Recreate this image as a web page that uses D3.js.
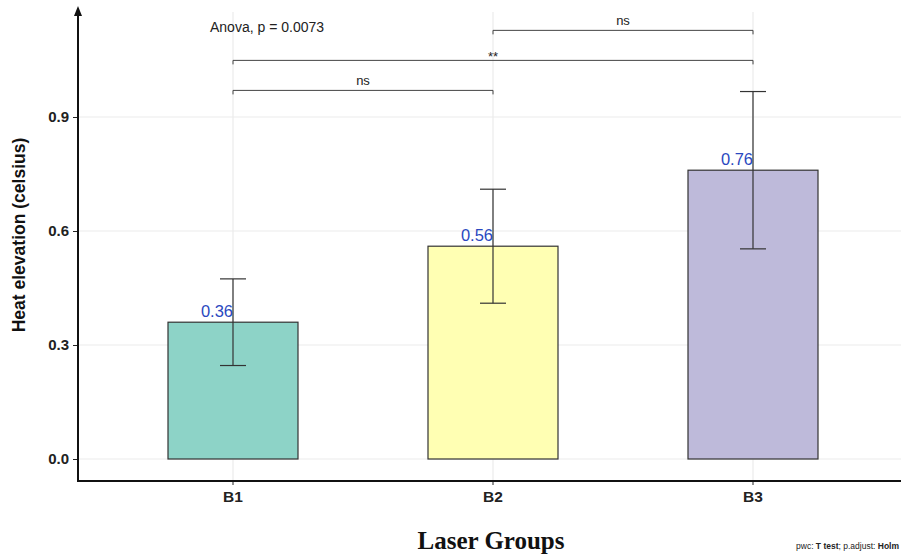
<!DOCTYPE html>
<html><head><meta charset="utf-8">
<script src="https://cdn.jsdelivr.net/npm/d3@7"></script>
<style>body{margin:0;background:#fff}svg{display:block}</style>
</head><body>
<script>
const categories = ["B1","B2","B3"];
const means = [0.36, 0.56, 0.76];
const errs = [0.114, 0.150, 0.207];
const colors = ["#8dd3c7","#ffffb3","#bebada"];
const yTicks = [0.0, 0.3, 0.6, 0.9];
const brackets = [
  {from:"B1", to:"B2", y:0.97, label:"ns"},
  {from:"B1", to:"B3", y:1.049, label:"**"},
  {from:"B2", to:"B3", y:1.128, label:"ns"}
];

(function(){
const W=901,H=555;
const svg=d3.select("body").append("svg").attr("width",W).attr("height",H);
const x=d3.scaleBand().domain(categories).range([103,883]).paddingInner(0.5).paddingOuter(0.25);
const y=d3.scaleLinear().domain([0,0.9]).range([459,117]);
const left=78, bottom=481, topY=8;
const sans="Liberation Sans, Arial, sans-serif";

// grid
svg.append("g").selectAll("line").data(yTicks).join("line")
  .attr("x1",left).attr("x2",W).attr("y1",d=>y(d)).attr("y2",d=>y(d))
  .attr("stroke","#ebebeb").attr("stroke-width",1.2);
svg.append("g").selectAll("line").data(categories).join("line")
  .attr("x1",d=>x(d)+x.bandwidth()/2).attr("x2",d=>x(d)+x.bandwidth()/2)
  .attr("y1",topY+4).attr("y2",bottom).attr("stroke","#ebebeb").attr("stroke-width",1.2);

// bars
svg.append("g").selectAll("rect").data(categories).join("rect")
  .attr("x",d=>x(d)).attr("width",x.bandwidth())
  .attr("y",(d,i)=>y(means[i])).attr("height",(d,i)=>y(0)-y(means[i]))
  .attr("fill",(d,i)=>colors[i]).attr("stroke","#333").attr("stroke-width",1.2);

// error bars
const eb=svg.append("g").attr("stroke","#333").attr("stroke-width",1.2);
categories.forEach((c,i)=>{
  const cx=x(c)+x.bandwidth()/2;
  eb.append("line").attr("x1",cx).attr("x2",cx).attr("y1",y(means[i]+errs[i])).attr("y2",y(means[i]-errs[i]));
  [means[i]+errs[i],means[i]-errs[i]].forEach(v=>{
    eb.append("line").attr("x1",cx-13).attr("x2",cx+13).attr("y1",y(v)).attr("y2",y(v));
  });
});

// value labels
svg.append("g").selectAll("text").data(categories).join("text")
  .attr("x",d=>x(d)+x.bandwidth()/2).attr("y",(d,i)=>y(means[i])-5)
  .attr("text-anchor","end").attr("fill","#2a48c0")
  .attr("font-family",sans).attr("font-size",16.5)
  .text((d,i)=>means[i].toFixed(2));

// brackets
const bg=svg.append("g");
brackets.forEach(b=>{
  const x1=x(b.from)+x.bandwidth()/2, x2=x(b.to)+x.bandwidth()/2, yy=y(b.y);
  bg.append("path").attr("d",`M${x1},${yy+4}V${yy}H${x2}V${yy+4}`)
    .attr("fill","none").attr("stroke","#444").attr("stroke-width",1);
  bg.append("text").attr("x",(x1+x2)/2).attr("y",b.label==="**"?yy+1:yy-5).attr("text-anchor","middle")
    .attr("font-family",sans).attr("font-size",13).attr("fill","#222")
    .text(b.label);
});

svg.append("text").attr("x",210).attr("y",32)
  .attr("font-family",sans).attr("font-size",14).attr("fill","#222")
  .text("Anova, p = 0.0073");

// axes
const ya=svg.append("g").attr("transform",`translate(${left},0)`)
  .call(d3.axisLeft(y).tickValues(yTicks).tickFormat(d3.format(".1f")).tickSize(5).tickPadding(4));
ya.select(".domain").remove();
ya.selectAll("text").attr("font-family",sans).attr("font-size",15)
  .attr("font-weight","bold").attr("fill","#222");
ya.selectAll(".tick line").attr("stroke","#222");

const xa=svg.append("g").attr("transform",`translate(0,${bottom})`)
  .call(d3.axisBottom(x).tickSize(4));
xa.select(".domain").remove();
xa.selectAll("text").attr("font-family",sans).attr("font-size",15.5)
  .attr("font-weight","bold").attr("fill","#222").attr("dy","0.9em");
xa.selectAll(".tick line").attr("stroke","#222");

svg.append("line").attr("x1",left).attr("x2",left).attr("y1",topY+6).attr("y2",bottom+1)
  .attr("stroke","#111").attr("stroke-width",2);
svg.append("line").attr("x1",left-1).attr("x2",W).attr("y1",bottom).attr("y2",bottom)
  .attr("stroke","#111").attr("stroke-width",2);
svg.append("path").attr("d",`M${left},${topY-2}L${left-4},${topY+8}L${left+4},${topY+8}Z`).attr("fill","#111");

// titles
svg.append("text").attr("transform","translate(25,235) rotate(-90)").attr("text-anchor","middle")
  .attr("font-family",sans).attr("font-size",17.5).attr("font-weight","bold")
  .attr("fill","#111").text("Heat elevation (celsius)");
svg.append("text").attr("x",491).attr("y",549).attr("text-anchor","middle")
  .attr("font-family","Liberation Serif, Times New Roman, serif").attr("font-size",25).attr("font-weight","bold")
  .attr("fill","#111").text("Laser Groups");
const pw=svg.append("text").attr("x",899).attr("y",549).attr("text-anchor","end")
  .attr("font-family",sans).attr("font-size",8.5).attr("fill","#222");
pw.append("tspan").text("pwc: ");
pw.append("tspan").attr("font-weight","bold").text("T test");
pw.append("tspan").text("; p.adjust: ");
pw.append("tspan").attr("font-weight","bold").text("Holm");
})();
</script>
</body></html>
